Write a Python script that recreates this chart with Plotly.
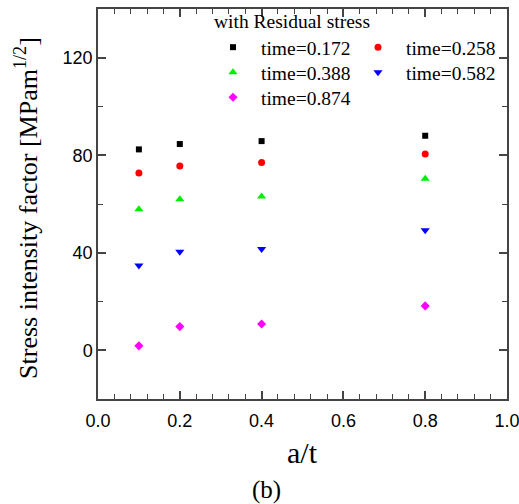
import plotly.graph_objects as go

x_vals = [0.1, 0.2, 0.4, 0.8]
series_names = ["time=0.172", "time=0.258", "time=0.388", "time=0.582", "time=0.874"]
k_0172 = [82.4, 84.6, 85.8, 88.0]
k_0258 = [72.7, 75.6, 77.0, 80.5]
k_0388 = [57.8, 61.9, 63.1, 70.4]
k_0582 = [34.8, 40.4, 41.5, 49.2]
k_0874 = [1.8, 9.7, 10.8, 18.2]

series_vals = [k_0172, k_0258, k_0388, k_0582, k_0874]
colors = ["#000000", "#ff0000", "#00ee00", "#0000ff", "#ff00ff"]
symbols = ["square", "circle", "triangle-up", "triangle-down", "diamond"]
sizes = [6, 7, 8, 8, 7]
legend_ids = ["legend", "legend2", "legend3", "legend4", "legend5"]

SERIF = "Liberation Serif, Times New Roman"

fig = go.Figure()
for name, vals, c, s, sz, lg in zip(series_names, series_vals, colors, symbols, sizes, legend_ids):
    fig.add_trace(go.Scatter(x=x_vals, y=vals, mode="markers", name=name, legend=lg,
                             marker=dict(color=c, symbol=s, size=sz, line=dict(width=0))))

axis_common = dict(showline=True, linecolor="#444", linewidth=1.5, mirror="ticks",
                   ticks="inside", ticklen=8, tickwidth=1.5, tickcolor="#444",
                   showgrid=False, zeroline=False, ticklabeloverflow="allow", automargin=False,
                   tickfont=dict(family="Liberation Sans, Arial", size=18, color="black"))

fig.update_xaxes(range=[0, 1.0], dtick=0.2, tickformat=".1f", ticklabelstandoff=5,
                 minor=dict(dtick=0.04, ticks="inside", ticklen=5, tickwidth=1.2, tickcolor="#444"),
                 **axis_common)
fig.update_yaxes(range=[-20, 140], tickvals=[0, 40, 80, 120], ticksuffix="\u2002",
                 minor=dict(dtick=20, ticks="inside", ticklen=5, tickwidth=1.2, tickcolor="#444"),
                 **axis_common)

legend_style = dict(orientation="v", yanchor="middle", xanchor="left", itemwidth=46,
                    font=dict(family=SERIF, size=19.5, color="black"),
                    bgcolor="rgba(0,0,0,0)", tracegroupgap=0)


def px_x(px):
    return (px - 98) / 409


def px_y(py):
    return 1 - (py - 9) / 390


col_x = [px_x(205), px_x(350)]
row_y = [px_y(47.5), px_y(72.5), px_y(97.5)]

fig.update_layout(
    width=519, height=504,
    margin=dict(l=98, r=12, t=9, b=105, autoexpand=False),
    plot_bgcolor="white", paper_bgcolor="white",
    showlegend=True,
    legend=dict(x=col_x[0], y=row_y[0], **legend_style),
    legend2=dict(x=col_x[1], y=row_y[0], **legend_style),
    legend3=dict(x=col_x[0], y=row_y[1], **legend_style),
    legend4=dict(x=col_x[1], y=row_y[1], **legend_style),
    legend5=dict(x=col_x[0], y=row_y[2], **legend_style),
    annotations=[
        dict(text="with Residual stress", xref="paper", yref="paper",
             x=px_x(292), y=px_y(22), xanchor="center", yanchor="middle",
             showarrow=False, font=dict(family=SERIF, size=19.5, color="black")),
        dict(text="Stress intensity factor [MPam<sup>1/2</sup>]", xref="paper", yref="paper",
             x=px_x(27), y=0.49, xanchor="center", yanchor="middle", textangle=-90, showarrow=False,
             font=dict(family=SERIF, size=26, color="black")),
        dict(text="a/t", xref="paper", yref="paper", x=0.5, y=px_y(452), xanchor="center",
             yanchor="middle", showarrow=False, font=dict(family=SERIF, size=30, color="black")),
        dict(text="(b)", xref="paper", yref="paper", x=px_x(266), y=px_y(490),
             xanchor="center", yanchor="middle", showarrow=False,
             font=dict(family=SERIF, size=25, color="black")),
    ],
)

fig.write_html("out.html")
